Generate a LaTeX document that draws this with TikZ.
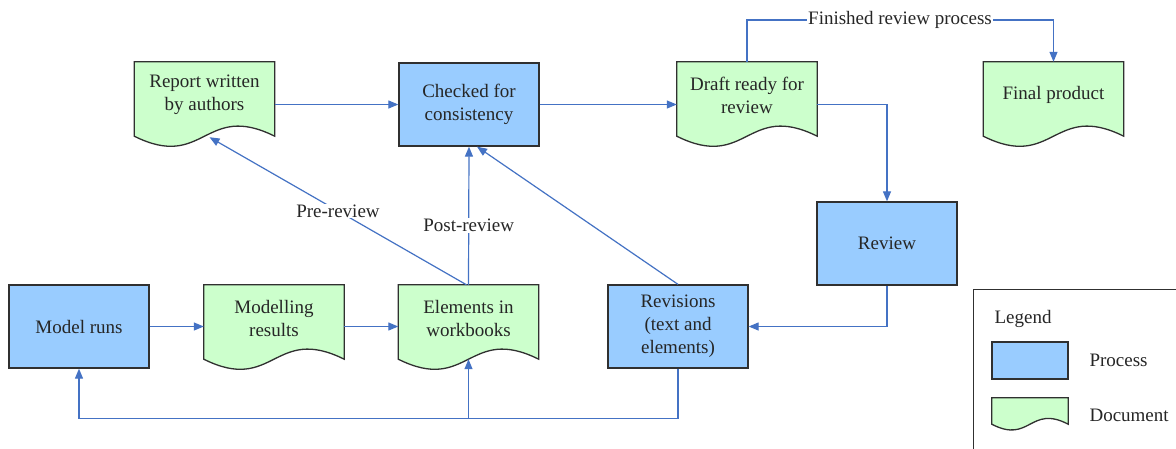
\documentclass[tikz,border=0pt]{standalone}
\usepackage{fontspec}
\setmainfont{Liberation Serif}
\usetikzlibrary{calc,arrows.meta}
\definecolor{procfill}{HTML}{99CCFF}
\definecolor{docfill}{HTML}{CCFFCC}
\definecolor{flowcol}{HTML}{4472C4}
\definecolor{edgecol}{HTML}{303030}
\definecolor{txtcol}{HTML}{262626}
\newcommand{\docoutline}[3]{%
  \draw[docshape] (#1.north west) -- (#1.north east) -- ($(#1.south east)+(0,#2)$)
    .. controls ($(#1.south)+(0,#2-#3)$) and ($(#1.south)+(0,#2+#3)$) .. ($(#1.south west)+(0,#2)$) -- cycle;}
\begin{document}
\begin{tikzpicture}[x=1pt,y=-1pt,
  every node/.style={text=txtcol,font=\fontsize{19}{23}\selectfont},
  procbox/.style={draw=edgecol,line width=1.3pt,fill=procfill,minimum width=140pt,minimum height=83pt,inner sep=0pt,align=center},
  docbox/.style={minimum width=140pt,minimum height=66pt,inner sep=0pt,align=center},
  docshape/.style={draw=edgecol,line width=1.3pt,fill=docfill},
  flow/.style={draw=flowcol,line width=1.2pt,-{Triangle[length=10pt,width=8pt]}},
  flowline/.style={draw=flowcol,line width=1.2pt},
  lbl/.style={fill=white,inner sep=1pt}]
\clip (0,0) rectangle (1176,448);
\fill[white] (0,0) rectangle (1176,448);

% document-shaped nodes
\node[docbox] (report) at (204.5,95) {};
\docoutline{report}{8}{35}
\node[docbox] at (report) {Report written\\by authors};

\node[docbox] (draft) at (747,95) {};
\docoutline{draft}{8}{35}
\node[docbox] at (draft) {Draft ready for\\review};

\node[docbox] (final) at (1053.5,95) {};
\docoutline{final}{8}{35}
\node[docbox] at (final) {Final product};

\node[docbox] (modres) at (274,318) {};
\docoutline{modres}{8}{35}
\node[docbox] at (modres) {Modelling\\results};

\node[docbox] (elem) at (468.5,318) {};
\docoutline{elem}{8}{35}
\node[docbox] at (elem) {Elements in\\workbooks};

% process nodes
\node[procbox] (checked) at (469,104.5) {Checked for\\consistency};
\node[procbox] (review) at (887,243.5) {Review};
\node[procbox] (model) at (79,326.5) {Model runs};
\node[procbox] (revis) at (678,326.5) {Revisions\\(text and\\elements)};

% connectors
\draw[flow] (report.east |- checked.west) -- (checked.west);
\draw[flow] (checked.east) -- (checked.east -| draft.west);
\draw[flow] (draft.east |- checked.east) -| (review.north);
\node[lbl] (finlbl) at (900,20) {Finished review process};
\draw[flowline] (draft.north) |- (finlbl.west);
\draw[flow] (finlbl.east) -| (final.north);

\draw[flow] (model.east) -- (model.east -| modres.west);
\draw[flow] (modres.east |- model.east) -- (model.east -| elem.west);

\draw[flow] (elem.north) -- node[lbl,pos=0.43] (postlbl) {Post-review} (checked.south);
\draw[flow] ([xshift=-2pt]elem.north) -- node[lbl,pos=0.5] (prelbl) {Pre-review} ($(report.south)+(5,9)$);
\draw[flow] (revis.north) -- ([xshift=8pt]checked.south);

\draw[flow] (review.south) |- (revis.east);
\coordinate (fb) at ($(revis.south)+(0,50)$);
\draw[flow] (revis.south) -- (fb) -| (model.south);
\draw[flow] (fb -| elem.south) -- ($(elem.south)+(0,8)$);

% legend
\node[draw=edgecol,line width=1pt,minimum width=230pt,minimum height=180pt,anchor=north west,inner sep=0pt] (legend) at (973,289) {};
\node[anchor=base west] (legtitle) at (991,323) {Legend};
\node[draw=edgecol,line width=1.2pt,fill=procfill,minimum width=76pt,minimum height=37pt,inner sep=0pt] (legproc) at (1030,360.5) {};
\node[anchor=west] (legproctxt) at (1086,360.5) {Process};
\node[minimum width=76pt,minimum height=22pt,inner sep=0pt] (legdoc) at (1030,409) {};
\docoutline{legdoc}{4}{20}
\node[anchor=west] (legdoctxt) at (1086,415) {Document};
\end{tikzpicture}
\end{document}
